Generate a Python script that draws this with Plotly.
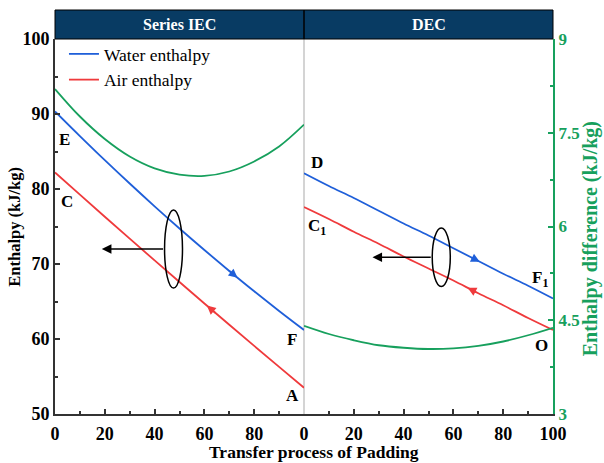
import numpy as np
import plotly.graph_objects as go

# ---------------- data ----------------
x_pct = [0, 10, 20, 30, 40, 50, 60, 70, 80, 90, 100]
iec_water = [90.35, 87.06, 83.85, 80.73, 77.69, 74.73, 71.86, 69.07, 66.36, 63.74, 61.2]
iec_air = [82.2, 79.24, 76.3, 73.38, 70.48, 67.6, 64.74, 61.9, 59.08, 56.28, 53.5]
iec_diff = [8.2, 7.76, 7.40, 7.12, 6.93, 6.83, 6.81, 6.88, 7.04, 7.28, 7.63]
dec_water = [82.1, 80.4, 78.8, 77.1, 75.4, 73.8, 72.1, 70.4, 68.7, 67.1, 65.4]
dec_air = [77.6, 76.0, 74.3, 72.7, 71.0, 69.4, 67.8, 66.1, 64.5, 62.8, 61.2]
dec_diff = [4.41, 4.28, 4.18, 4.10, 4.06, 4.04, 4.05, 4.09, 4.16, 4.26, 4.38]

panel_titles = ["Series IEC", "DEC"]
series_names = ["Water enthalpy", "Air enthalpy"]
left_xticks = [0, 20, 40, 60, 80]
right_xticks = [0, 20, 40, 60, 80, 100]
y_ticks = [50, 60, 70, 80, 90, 100]
y2_ticks = [3, 4.5, 6, 7.5, 9]
y2_ticktext = ["3", "4.5", "6", "7.5", "9"]
x_title = "Transfer process of Padding"
y_title = "Enthalpy (kJ/kg)"
y2_title = "Enthalpy difference (kJ/kg)"

# point labels: (text, axis, x, y, anchor)
point_labels = [
    ("E", "x", 4.0, 86.6, "center"),
    ("C", "x", 4.7, 78.3, "center"),
    ("F", "x", 95.3, 59.9, "center"),
    ("A", "x", 95.3, 52.5, "center"),
    ("D", "x2", 2.0, 83.5, "left"),
    ("C<sub>1</sub>", "x2", 0.9, 74.9, "left"),
    ("F<sub>1</sub>", "x2", 98.6, 68.0, "right"),
    ("O", "x2", 95.4, 59.2, "center"),
]
# flow-direction arrowheads along lines: (axis, series, x position, direction)
flow_marks = [
    ("x", "iec_water", 73.3, +1),
    ("x", "iec_air", 61.0, -1),
    ("x2", "dec_water", 70.6, +1),
    ("x2", "dec_air", 65.7, -1),
]
# ellipses and side arrows: (axis, x0, x1, y0, y1, arrow_tip_x)
ellipses = [
    ("x", 44.0, 51.2, 66.8, 77.2, 18.8),
    ("x2", 51.5, 58.75, 67.0, 74.8, 27.5),
]

BLUE = "#1f5fd9"
RED = "#ef3a3c"
GREEN = "#17a05d"
AXC = "#333333"
NAVY = "#083b63"
FONT = "Liberation Serif"

series = {
    "iec_water": iec_water, "iec_air": iec_air,
    "dec_water": dec_water, "dec_air": dec_air,
}
colors = {"iec_water": BLUE, "iec_air": RED, "dec_water": BLUE, "dec_air": RED}

fig = go.Figure()
fig.add_trace(go.Scatter(x=x_pct, y=iec_water, mode="lines", name=series_names[0],
                         line=dict(color=BLUE, width=1.8, shape="spline"), xaxis="x", yaxis="y"))
fig.add_trace(go.Scatter(x=x_pct, y=iec_air, mode="lines", name=series_names[1],
                         line=dict(color=RED, width=1.8, shape="spline"), xaxis="x", yaxis="y"))
fig.add_trace(go.Scatter(x=x_pct, y=dec_water, mode="lines", showlegend=False,
                         line=dict(color=BLUE, width=1.8, shape="spline"), xaxis="x2", yaxis="y"))
fig.add_trace(go.Scatter(x=x_pct, y=dec_air, mode="lines", showlegend=False,
                         line=dict(color=RED, width=1.8, shape="spline"), xaxis="x2", yaxis="y"))
fig.add_trace(go.Scatter(x=x_pct, y=iec_diff, mode="lines", showlegend=False,
                         line=dict(color=GREEN, width=1.8, shape="spline"), xaxis="x", yaxis="y2"))
fig.add_trace(go.Scatter(x=x_pct, y=dec_diff, mode="lines", showlegend=False,
                         line=dict(color=GREEN, width=1.8, shape="spline"), xaxis="x2", yaxis="y2"))

annotations = []
# flow arrowheads
for ax_id, key, xp, d in flow_marks:
    ys = series[key]
    tail = xp - 4 * d
    annotations.append(dict(
        x=xp, y=float(np.interp(xp, x_pct, ys)), xref=ax_id, yref="y",
        ax=tail, ay=float(np.interp(tail, x_pct, ys)), axref=ax_id, ayref="y",
        showarrow=True, arrowhead=2, arrowsize=1.1, arrowwidth=1.6,
        arrowcolor=colors[key], text=""))

shapes = []
for ax_id, x0, x1, y0, y1, tip in ellipses:
    shapes.append(dict(type="circle", xref=ax_id, yref="y", x0=x0, x1=x1, y0=y0, y1=y1,
                       line=dict(color="black", width=1.5)))
    yc = (y0 + y1) / 2
    annotations.append(dict(
        x=tip, y=yc, xref=ax_id, yref="y", ax=x0, ay=yc, axref=ax_id, ayref="y",
        showarrow=True, arrowhead=2, arrowsize=1.2, arrowwidth=1.6,
        arrowcolor="black", text=""))

for txt, ax_id, xv, yv, anc in point_labels:
    annotations.append(dict(x=xv, y=yv, xref=ax_id, yref="y", text=txt, showarrow=False,
                            xanchor=anc, yanchor="middle",
                            font=dict(family=FONT, size=17, color="black", weight="bold")))

# header band
HB = 29 / 375
shapes.append(dict(type="rect", xref="paper", yref="paper", x0=0, x1=1, y0=1, y1=1 + HB,
                   fillcolor=NAVY, line=dict(color="black", width=1), layer="above"))
shapes.append(dict(type="line", xref="paper", yref="paper", x0=0.5, x1=0.5, y0=1, y1=1 + HB,
                   line=dict(color="black", width=1.5), layer="above"))
shapes.append(dict(type="line", xref="paper", yref="paper", x0=0.5, x1=0.5, y0=0, y1=1,
                   line=dict(color="#d4d4d4", width=2), layer="below"))
for i, t in enumerate(panel_titles):
    annotations.append(dict(x=0.25 + 0.5 * i, y=1 + HB / 2, xref="paper", yref="paper",
                            text=t, showarrow=False, xanchor="center", yanchor="middle",
                            font=dict(family=FONT, size=16, color="white", weight="bold")))

# axis titles
annotations.append(dict(x=-0.082, y=0.5, xref="paper", yref="paper", text=y_title,
                        textangle=-90, showarrow=False, xanchor="center", yanchor="middle",
                        font=dict(family=FONT, size=16.5, color="black", weight="bold")))
annotations.append(dict(x=1.077, y=0.467, xref="paper", yref="paper", text=y2_title,
                        textangle=-90, showarrow=False, xanchor="center", yanchor="middle",
                        font=dict(family=FONT, size=20, color=GREEN, weight="bold")))
annotations.append(dict(x=0.52, y=-0.102, xref="paper", yref="paper", text=x_title,
                        showarrow=False, xanchor="center", yanchor="middle",
                        font=dict(family=FONT, size=17.5, color="black", weight="bold")))

tickfont = dict(family=FONT, size=18, color="black", weight="bold")
xcommon = dict(range=[0, 100], anchor="y", ticks="inside", ticklen=5, tickwidth=1.5,
               tickcolor=AXC, showline=True, linecolor=AXC, linewidth=2, showgrid=False,
               zeroline=False, tickfont=tickfont, tickmode="array", ticklabelstandoff=2,
               minor=dict(tickmode="linear", tick0=0, dtick=10, ticks="inside", ticklen=3,
                          tickwidth=1.5, tickcolor=AXC, showgrid=False))

fig.update_layout(
    width=604, height=463,
    margin=dict(l=55, r=51, t=39, b=49),
    paper_bgcolor="white", plot_bgcolor="white",
    font=dict(family=FONT, color="black"),
    showlegend=True,
    legend=dict(x=0.018, y=1.008, xanchor="left", yanchor="top", bgcolor="rgba(0,0,0,0)",
                font=dict(family=FONT, size=17.5, color="black"), tracegroupgap=0,
                itemwidth=30),
    xaxis=dict(domain=[0, 0.5], tickvals=left_xticks, **xcommon),
    xaxis2=dict(domain=[0.5, 1], tickvals=right_xticks, **xcommon),
    yaxis=dict(domain=[0, 1], range=[50, 100], anchor="x", tickmode="array", tickvals=y_ticks,
               ticks="inside", ticklen=5, tickwidth=1.5, tickcolor=AXC, showline=True,
               linecolor=AXC, linewidth=2, showgrid=False, zeroline=False, tickfont=tickfont,
               minor=dict(tickmode="linear", tick0=50, dtick=5, ticks="inside", ticklen=3,
                          tickwidth=1.5, tickcolor=AXC, showgrid=False)),
    yaxis2=dict(range=[3, 9], overlaying="y", side="right", anchor="x2", tickmode="array",
                tickvals=y2_ticks, ticktext=y2_ticktext, ticks="inside", ticklen=5,
                tickwidth=1.5, tickcolor=GREEN, showline=True, linecolor=GREEN, linewidth=2,
                showgrid=False, zeroline=False,
                tickfont=dict(family=FONT, size=17, color=GREEN, weight="bold"),
                minor=dict(tickmode="linear", tick0=3, dtick=0.75, ticks="inside", ticklen=3,
                           tickwidth=1.5, tickcolor=GREEN, showgrid=False)),
    shapes=shapes,
    annotations=annotations,
)

fig.write_html("out.html")
